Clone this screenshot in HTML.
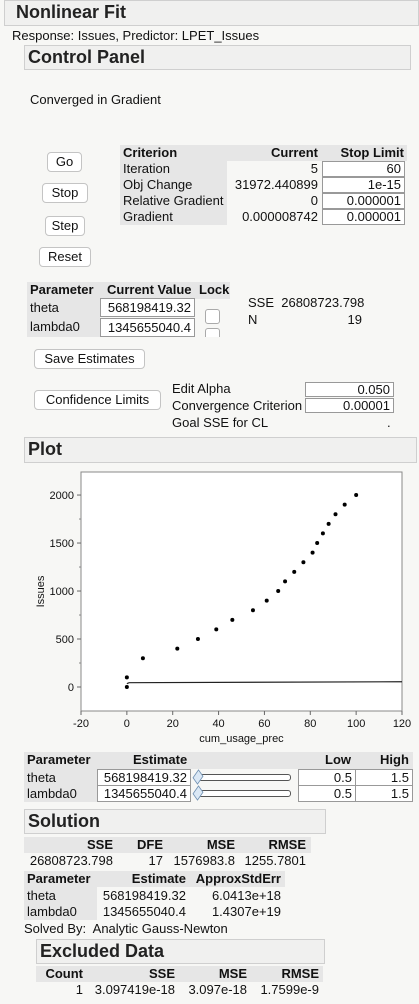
<!DOCTYPE html>
<html><head><meta charset="utf-8"><style>
body{margin:0;width:419px;height:1004px;background:#f7f7f5;font-family:"Liberation Sans",Arial,sans-serif;font-size:13px;color:#111;position:relative;overflow:hidden}
.a{position:absolute;white-space:nowrap}
.hdr{position:absolute;background:#f0f0ef;border:1px solid #cfcfcf;font-weight:bold;font-size:18px;color:#222;box-sizing:border-box;padding-left:3px;line-height:23px}
.btn{position:absolute;background:#fff;border:1px solid #c4c4c4;border-radius:4px;box-sizing:border-box;text-align:center;line-height:18px;font-size:13px}
.box{position:absolute;background:#fff;border:1px solid #999;box-sizing:border-box;text-align:right;padding-right:3px;line-height:14px}
.gbg{position:absolute;background:#e6e6e6}
.b{font-weight:bold}
.r{text-align:right}
.cb{position:absolute;width:13px;height:13px;background:#fff;border:1px solid #aaa;border-radius:3px}
</style></head><body>
<div class="hdr" style="left:4px;top:0;width:415px;height:26px;padding-left:11px">Nonlinear Fit</div>
<div class="a" style="left:12px;top:28px">Response: Issues, Predictor: LPET_Issues</div>
<div class="hdr" style="left:24px;top:45px;width:387px;height:25px">Control Panel</div>
<div class="a" style="left:30px;top:92px">Converged in Gradient</div>

<div class="btn" style="left:47px;top:152px;width:35px;height:20px">Go</div>
<div class="btn" style="left:42px;top:183px;width:46px;height:20px">Stop</div>
<div class="btn" style="left:45px;top:216px;width:40px;height:20px">Step</div>
<div class="btn" style="left:39px;top:247px;width:52px;height:20px">Reset</div>

<div>
<div class="gbg" style="left:120px;top:145px;width:287px;height:16px"></div>
<div class="gbg" style="left:120px;top:161px;width:107px;height:64px"></div>
<div class="a b" style="left:123px;top:145px">Criterion</div>
<div class="a b r" style="left:220px;top:145px;width:98px">Current</div>
<div class="a b r" style="left:320px;top:145px;width:84px">Stop Limit</div>
<div class="a" style="left:123px;top:161px">Iteration</div>
<div class="a" style="left:123px;top:177px">Obj Change</div>
<div class="a" style="left:123px;top:193px">Relative Gradient</div>
<div class="a" style="left:123px;top:209px">Gradient</div>
<div class="a r" style="left:220px;top:161px;width:98px">5</div>
<div class="a r" style="left:220px;top:177px;width:98px">31972.440899</div>
<div class="a r" style="left:220px;top:193px;width:98px">0</div>
<div class="a r" style="left:220px;top:209px;width:98px">0.000008742</div>
<div class="box" style="left:322px;top:161px;width:83px;height:16px">60</div>
<div class="box" style="left:322px;top:177px;width:83px;height:16px">1e-15</div>
<div class="box" style="left:322px;top:193px;width:83px;height:16px">0.000001</div>
<div class="box" style="left:322px;top:209px;width:83px;height:16px">0.000001</div>
</div>

<div>
<div class="gbg" style="left:27px;top:282px;width:203px;height:17px"></div>
<div class="gbg" style="left:27px;top:299px;width:73px;height:38px"></div>
<div class="a b" style="left:30px;top:282px">Parameter</div>
<div class="a b" style="left:107px;top:282px">Current Value</div>
<div class="a b" style="left:199px;top:282px">Lock</div>
<div class="a" style="left:30px;top:300px">theta</div>
<div class="a" style="left:30px;top:319px">lambda0</div>
<div class="box" style="left:100px;top:298px;width:95px;height:19px;line-height:17px">568198419.32</div>
<div class="box" style="left:100px;top:318px;width:95px;height:19px;line-height:17px">1345655040.4</div>
<div class="cb" style="left:205px;top:309px"></div>
<div class="cb" style="left:205px;top:328px;height:8px;border-bottom:none;border-radius:3px 3px 0 0"></div>
</div>
<div class="a" style="left:248px;top:295px">SSE&nbsp; 26808723.798</div>
<div class="a" style="left:248px;top:312px">N</div>
<div class="a r" style="left:300px;top:312px;width:62px">19</div>

<div class="btn" style="left:34px;top:349px;width:111px;height:20px">Save Estimates</div>
<div class="btn" style="left:34px;top:390px;width:127px;height:20px">Confidence Limits</div>
<div class="a" style="left:172px;top:381px">Edit Alpha</div>
<div class="a" style="left:172px;top:398px">Convergence Criterion</div>
<div class="a" style="left:172px;top:415px">Goal SSE for CL</div>
<div class="box" style="left:305px;top:382px;width:89px;height:15px;line-height:13px">0.050</div>
<div class="box" style="left:305px;top:398px;width:89px;height:15px;line-height:13px">0.00001</div>
<div class="a" style="left:387px;top:415px">.</div>

<div class="hdr" style="left:24px;top:437px;width:393px;height:26px">Plot</div>

<svg id="chart" style="position:absolute;left:0;top:0" width="419" height="750"></svg>

<div>
<div class="gbg" style="left:24px;top:752px;width:389px;height:17px"></div>
<div class="gbg" style="left:24px;top:769px;width:73px;height:33px"></div>
<div class="a b" style="left:27px;top:752px">Parameter</div>
<div class="a b" style="left:133px;top:752px">Estimate</div>
<div class="a b r" style="left:300px;top:752px;width:51px">Low</div>
<div class="a b" style="left:380px;top:752px">High</div>
<div class="a" style="left:27px;top:770px">theta</div>
<div class="a" style="left:27px;top:786px">lambda0</div>
<div class="box" style="left:97px;top:769px;width:94px;height:17px;line-height:15px">568198419.32</div>
<div class="box" style="left:97px;top:785px;width:94px;height:17px;line-height:15px">1345655040.4</div>
<div class="a" style="left:196px;top:774px;width:93px;height:5px;border:1px solid #555;border-radius:3px;background:#fff"></div>
<div class="a" style="left:196px;top:790px;width:93px;height:5px;border:1px solid #555;border-radius:3px;background:#fff"></div>
<div class="a" style="left:193px;top:771px;width:8px;height:10px;background:#dbe8f5;border:1px solid #6f8fb0;transform:scaleX(.7) rotate(45deg)"></div>
<div class="a" style="left:193px;top:787px;width:8px;height:10px;background:#dbe8f5;border:1px solid #6f8fb0;transform:scaleX(.7) rotate(45deg)"></div>
<div class="box" style="left:298px;top:769px;width:58px;height:17px;line-height:15px">0.5</div>
<div class="box" style="left:355px;top:769px;width:58px;height:17px;line-height:15px">1.5</div>
<div class="box" style="left:298px;top:785px;width:58px;height:17px;line-height:15px">0.5</div>
<div class="box" style="left:355px;top:785px;width:58px;height:17px;line-height:15px">1.5</div>
</div>

<div class="hdr" style="left:24px;top:809px;width:302px;height:25px">Solution</div>
<div>
<div class="gbg" style="left:24px;top:837px;width:287px;height:16px"></div>
<div class="a b r" style="left:30px;top:837px;width:83px">SSE</div>
<div class="a b r" style="left:120px;top:837px;width:43px">DFE</div>
<div class="a b r" style="left:170px;top:837px;width:65px">MSE</div>
<div class="a b r" style="left:240px;top:837px;width:66px">RMSE</div>
<div class="a r" style="left:20px;top:853px;width:93px">26808723.798</div>
<div class="a r" style="left:120px;top:853px;width:43px">17</div>
<div class="a r" style="left:170px;top:853px;width:65px">1576983.8</div>
<div class="a r" style="left:240px;top:853px;width:66px">1255.7801</div>
</div>
<div>
<div class="gbg" style="left:24px;top:871px;width:261px;height:16px"></div>
<div class="gbg" style="left:24px;top:887px;width:73px;height:33px"></div>
<div class="a b" style="left:27px;top:871px">Parameter</div>
<div class="a b r" style="left:100px;top:871px;width:86px">Estimate</div>
<div class="a b r" style="left:190px;top:871px;width:91px">ApproxStdErr</div>
<div class="a" style="left:27px;top:888px">theta</div>
<div class="a" style="left:27px;top:904px">lambda0</div>
<div class="a r" style="left:100px;top:888px;width:86px">568198419.32</div>
<div class="a r" style="left:100px;top:904px;width:86px">1345655040.4</div>
<div class="a r" style="left:190px;top:888px;width:91px">6.0413e+18</div>
<div class="a r" style="left:190px;top:904px;width:91px">1.4307e+19</div>
</div>
<div class="a" style="left:24px;top:921px">Solved By:&nbsp; Analytic Gauss-Newton</div>

<div class="hdr" style="left:36px;top:939px;width:289px;height:25px">Excluded Data</div>
<div>
<div class="gbg" style="left:36px;top:966px;width:287px;height:16px"></div>
<div class="a b r" style="left:40px;top:966px;width:43px">Count</div>
<div class="a b r" style="left:90px;top:966px;width:85px">SSE</div>
<div class="a b r" style="left:180px;top:966px;width:67px">MSE</div>
<div class="a b r" style="left:250px;top:966px;width:69px">RMSE</div>
<div class="a r" style="left:40px;top:982px;width:43px">1</div>
<div class="a r" style="left:90px;top:982px;width:85px">3.097419e-18</div>
<div class="a r" style="left:180px;top:982px;width:67px">3.097e-18</div>
<div class="a r" style="left:250px;top:982px;width:69px">1.7599e-9</div>
</div>

<script>
const xValues=[0,0,7,22,31,39,46,55,61,66,69,73,77,81,83,85.5,88,91,95,100];
const yValues=[0,100,300,400,500,600,700,800,900,1000,1100,1200,1300,1400,1500,1600,1700,1800,1900,2000];
const fitX=[0,1,120];
const fitY=[35,45,55];
const xTicks=[-20,0,20,40,60,80,100,120];
const yTicks=[0,500,1000,1500,2000];
const L=81,R=402,T=472,B=711,xMin=-20,xMax=120,yMin=-250,yMax=2240;
const sx=v=>L+(v-xMin)/(xMax-xMin)*(R-L);
const sy=v=>B-(v-yMin)/(yMax-yMin)*(B-T);
const svg=document.getElementById('chart');
const NS='http://www.w3.org/2000/svg';
function mk(t,a){const e=document.createElementNS(NS,t);for(const k in a)e.setAttribute(k,a[k]);svg.appendChild(e);return e;}
const fr=mk('rect',{x:L,y:T,width:R-L,height:B-T,fill:'#fff',stroke:'#888','stroke-width':1});


xTicks.forEach(v=>{
 const x=sx(v);
 const tk=mk('line',{x1:x,x2:x,y1:B,y2:B+4,stroke:'#666'});
 
 
 const t=mk('text',{x:x,y:B+16,'text-anchor':'middle','font-size':11,'font-family':'Liberation Sans, sans-serif',fill:'#111'});
 t.textContent=v;
 
 
});
yTicks.forEach(v=>{
 const y=sy(v);
 const tk=mk('line',{x1:L-4,x2:L,y1:y,y2:y,stroke:'#666'});
 
 
 const t=mk('text',{x:L-7,y:y+4,'text-anchor':'end','font-size':11,'font-family':'Liberation Sans, sans-serif',fill:'#111'});
 t.textContent=v;
 
 
});
[-250,250,750,1250,1750].forEach(v=>{const y=sy(v);if(y>T&&y<B){const m=mk('line',{x1:L-2,x2:L,y1:y,y2:y,stroke:'#888'});}});
const xt=mk('text',{x:(L+R)/2,y:742,'text-anchor':'middle','font-size':11,'font-family':'Liberation Sans, sans-serif',fill:'#111'});
xt.textContent='cum_usage_prec';


const yt=mk('text',{x:0,y:0,'text-anchor':'middle','font-size':11,'font-family':'Liberation Sans, sans-serif',fill:'#111',transform:'translate(44,'+((T+B)/2)+') rotate(-90)'});
yt.textContent='Issues';


const fl=mk('polyline',{points:fitX.map((v,i)=>sx(v)+','+sy(fitY[i])).join(' '),fill:'none',stroke:'#222','stroke-width':1.2});


xValues.forEach((v,i)=>{
 const c=mk('circle',{cx:sx(v),cy:sy(yValues[i]),r:2,fill:'#000'});
 
 
});
</script>
</body></html>
